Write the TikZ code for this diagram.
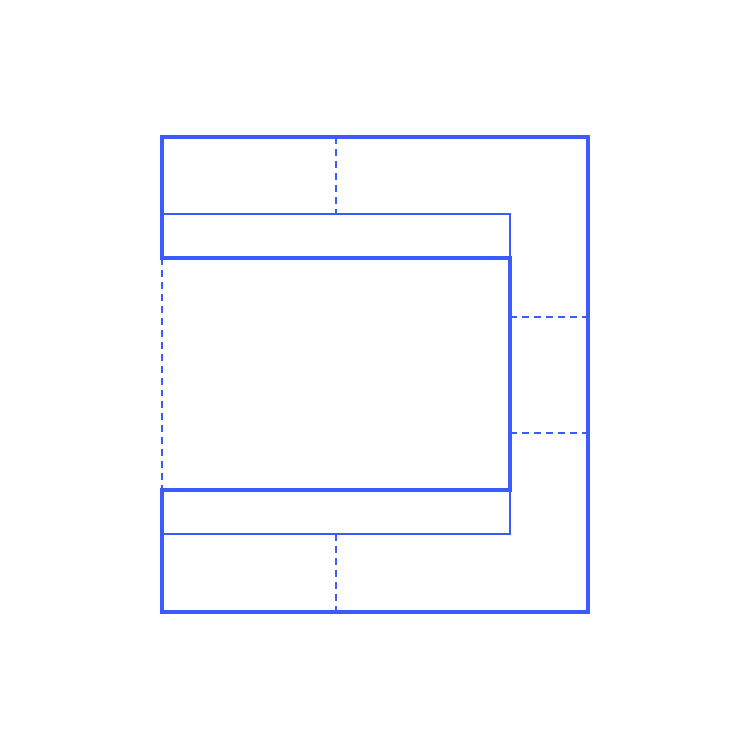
\documentclass[tikz,border=0pt]{standalone}
\usepackage{xcolor}
\usepackage{tikz}
\definecolor{core}{HTML}{3D5AFE}
\tikzset{
  ironline/.style={line width=3.6pt, draw=core, line join=miter},
  barline/.style={line width=2.8pt, draw=core},
  cutline/.style={line width=3pt, draw=core, dash pattern=on 7pt off 5pt}
}

\begin{document}
\begin{tikzpicture}[x=1bp, y=-1bp]
  \useasboundingbox (0,0) rectangle (750,750);

  % Core outline
  \coordinate (TL) at (162,137);
  \coordinate (TR) at (588,137);
  \coordinate (BR) at (588,612);
  \coordinate (BL) at (162,612);
  \coordinate (WTL) at (162,258);
  \coordinate (WTR) at (510,258);
  \coordinate (WBR) at (510,490);
  \coordinate (WBL) at (162,490);
  \draw[ironline] (WTL) -- (TL) -- (TR) -- (BR) -- (BL) -- (WBL) -- (WBR) -- (WTR) -- cycle;

  % Bars
  \coordinate (UTL) at (162,214);
  \coordinate (UTR) at (510,214);
  \coordinate (LBL) at (162,534);
  \coordinate (LBR) at (510,534);
  \draw[barline] (UTL) -- (UTR) -- (WTR);
  \draw[barline] (LBL) -- (LBR) -- (WBR);

  % Cuts
  \draw[cutline] (336,137) -- (336,214);
  \draw[cutline] (336,534) -- (336,612);
  \draw[cutline] (510,317) -- (588,317);
  \draw[cutline] (510,433) -- (588,433);
  \draw[cutline] (WTL) -- (WBL);
\end{tikzpicture}
\end{document}
